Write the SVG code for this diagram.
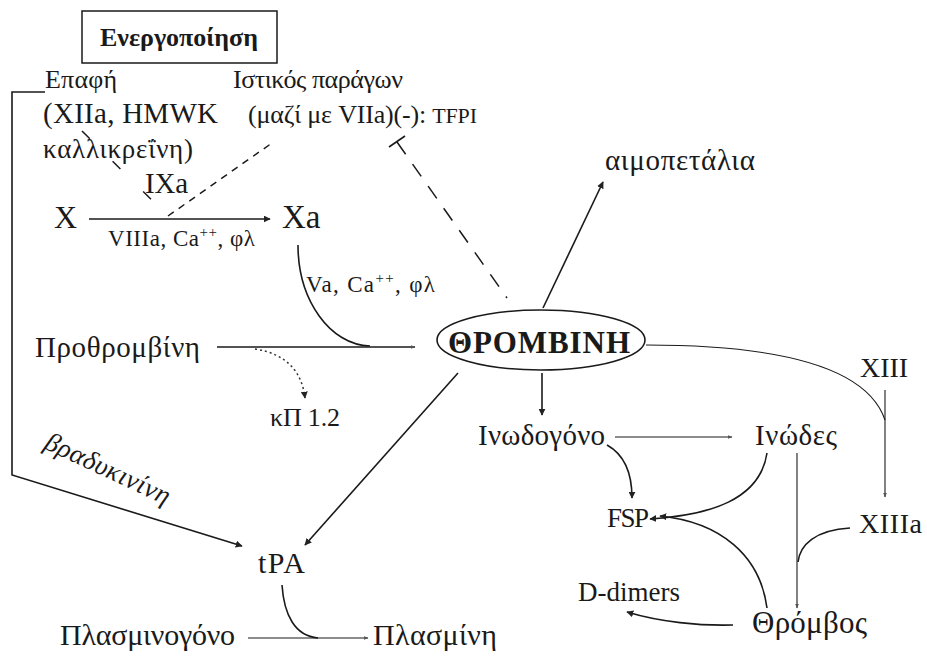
<svg xmlns="http://www.w3.org/2000/svg" width="927" height="657" viewBox="0 0 927 657">
<defs>
<marker id="ah" viewBox="0 0 10 10" refX="9" refY="5" markerWidth="7" markerHeight="7" markerUnits="userSpaceOnUse" orient="auto"><path d="M0,0 L10,5 L0,10 z" fill="#222"/></marker>
<marker id="ahs" viewBox="0 0 10 10" refX="9" refY="5" markerWidth="5" markerHeight="5" markerUnits="userSpaceOnUse" orient="auto"><path d="M0,1 L10,5 L0,9 z" fill="#555"/></marker>
</defs>
<style>
text{font-family:"Liberation Serif","DejaVu Serif","Noto Serif",serif;fill:#1a1a1a}
.b{font-weight:bold}
.ln{fill:none;stroke:#1a1a1a;stroke-width:1.6}
.th{fill:none;stroke:#1a1a1a;stroke-width:1.1}
.d1{fill:none;stroke:#1a1a1a;stroke-width:1.5;stroke-dasharray:7 6}
.d2{fill:none;stroke:#1a1a1a;stroke-width:1.5;stroke-dasharray:15 12}
.d3{fill:none;stroke:#1a1a1a;stroke-width:1.5;stroke-dasharray:11 32}
.dot{fill:none;stroke:#333;stroke-width:1.5;stroke-dasharray:2 3}
</style>
<rect width="927" height="657" fill="#ffffff"/>

<g id="connectors">
<path class="ln" d="M45,92 H12 V475 L242,546" marker-end="url(#ah)"/>
<path class="ln" d="M89,219 H270" marker-end="url(#ah)"/>
<path class="d3" d="M82,131 L168,216"/>
<path class="d1" d="M168,216 L272,143"/>
<path class="d2" d="M397,142 L507,298"/>
<path class="ln" d="M389,147 L405,136"/>
<path class="ln" d="M298,245 C298,300 330,345 370,346"/>
<path class="ln" d="M217,347 H415" marker-end="url(#ahs)"/>
<path class="dot" d="M255,349 Q300,356 305,398" marker-end="url(#ah)"/>
<path class="ln" d="M543,308 L603,182" marker-end="url(#ah)"/>
<path class="ln" d="M458,373 L305,545" marker-end="url(#ah)"/>
<path class="ln" d="M542,373 V415" marker-end="url(#ah)"/>
<path class="th" d="M646,345 Q860,345 885,420"/>
<path class="th" d="M885,390 V497" marker-end="url(#ahs)"/>
<path class="th" d="M615,437 H732" marker-end="url(#ahs)"/>
<path class="ln" d="M607,445 C625,455 632,475 632,498" marker-end="url(#ah)"/>
<path class="ln" d="M767,453 C760,500 710,515 650,519" marker-end="url(#ah)"/>
<path class="ln" d="M767,608 C760,555 720,522 660,516" marker-end="url(#ah)"/>
<path class="th" d="M797,453 V608" marker-end="url(#ahs)"/>
<path class="ln" d="M850,528 C815,530 800,545 798,562"/>
<path class="ln" d="M733,625 C700,626 660,622 627,612" marker-end="url(#ah)"/>
<path class="ln" d="M282,585 C284,615 295,636 318,638"/>
<path class="th" d="M248,638 H368" marker-end="url(#ahs)"/>
</g>

<g id="activation">
<rect x="82" y="11" width="195" height="52" fill="#fff" stroke="#1a1a1a" stroke-width="1.5"/>
<text class="b" style="font-size:26px" x="100" y="46" textLength="158">Ενεργοποίηση</text>
</g>
<g id="contact">
<text style="font-size:26px" x="45" y="88" textLength="72">Επαφή</text>
<text style="font-size:29px" x="43" y="123" textLength="175">(XIIa, HMWK</text>
<text style="font-size:27px" x="43" y="158" textLength="150">καλλικρεΐνη)</text>
</g>
<g id="tissue-factor">
<text style="font-size:26px" x="233" y="88" textLength="170">Ιστικός παράγων</text>
<text style="font-size:26px" x="248" y="123" textLength="229">(μαζί με VIIa)(-): <tspan font-size="22">TFPI</tspan></text>
</g>
<g id="IXa"><text style="font-size:29px" x="145" y="193" textLength="43">IXa</text></g>
<g id="X"><text style="font-size:32px" x="54" y="228">X</text></g>
<g id="Xa"><text style="font-size:33px" x="282" y="228">Xa</text></g>
<g id="viiia-label"><text style="font-size:23px" x="108" y="246" textLength="147">VIIIa, Ca<tspan dy="-9" font-size="15">++</tspan><tspan dy="9">, φλ</tspan></text></g>
<g id="va-label"><text style="font-size:23px" x="306" y="292" textLength="129">Va, Ca<tspan dy="-9" font-size="15">++</tspan><tspan dy="9">, φλ</tspan></text></g>
<g id="prothrombin"><text style="font-size:29px" x="35" y="357" textLength="165">Προθρομβίνη</text></g>
<g id="kP12"><text style="font-size:26px" x="270" y="426" textLength="70">κΠ 1.2</text></g>
<g id="thrombin">
<ellipse cx="541" cy="340" rx="104" ry="30" fill="none" stroke="#1a1a1a" stroke-width="1.6"/>
<text class="b" style="font-size:31px" x="448" y="353" textLength="182">ΘΡΟΜΒΙΝΗ</text>
</g>
<g id="platelets"><text style="font-size:29px" x="605" y="170" textLength="150">αιμοπετάλια</text></g>
<g id="XIII"><text style="font-size:28px" x="860" y="377" textLength="48">XIII</text></g>
<g id="XIIIa"><text style="font-size:28px" x="859" y="533" textLength="63">XIIIa</text></g>
<g id="fibrinogen"><text style="font-size:29px" x="478" y="445" textLength="127">Ινωδογόνο</text></g>
<g id="fibrin"><text style="font-size:29px" x="755" y="445" textLength="82">Ινώδες</text></g>
<g id="FSP"><text style="font-size:27px" x="607" y="527" textLength="42">FSP</text></g>
<g id="D-dimers"><text style="font-size:27px" x="578" y="601" textLength="102">D-dimers</text></g>
<g id="thrombus"><text style="font-size:31px" x="752" y="633" textLength="115">Θρόμβος</text></g>
<g id="tPA"><text style="font-size:30px" x="258" y="573" textLength="47">tPA</text></g>
<g id="bradykinin"><text style="font-size:27px;font-style:italic" transform="translate(43,448) rotate(25)" textLength="135">βραδυκινίνη</text></g>
<g id="plasminogen"><text style="font-size:30px" x="60" y="645" textLength="175">Πλασμινογόνο</text></g>
<g id="plasmin"><text style="font-size:30px" x="373" y="645" textLength="124">Πλασμίνη</text></g>
</svg>
